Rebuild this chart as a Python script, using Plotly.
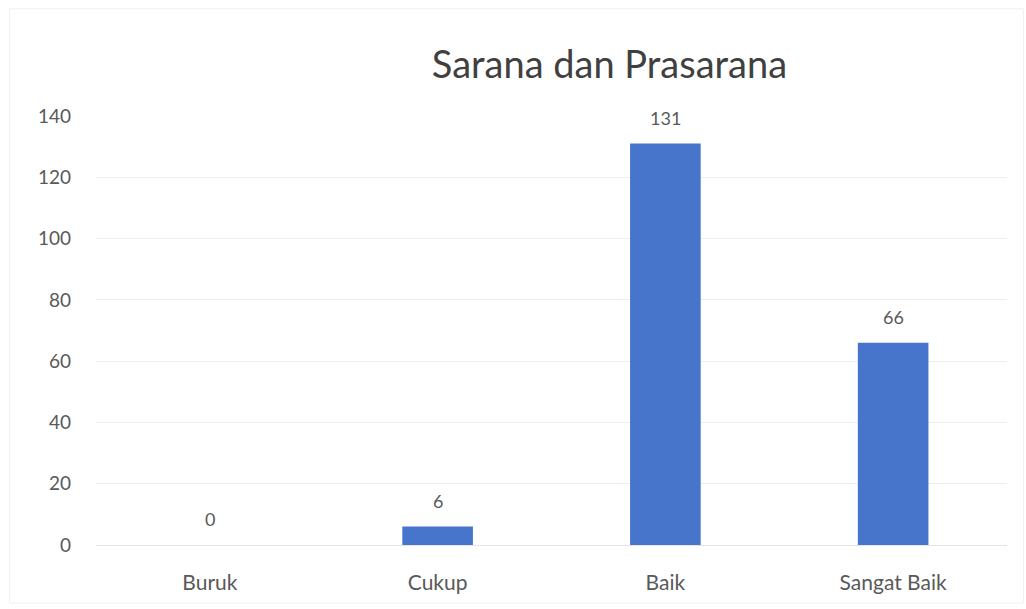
import plotly.graph_objects as go

categories = ["Buruk", "Cukup", "Baik", "Sangat Baik"]
values = [0, 6, 131, 66]
y_ticks = [0, 20, 40, 60, 80, 100, 120, 140]

FONT = "Lato, 'Open Sans', sans-serif"
TEXT_GRAY = "#595959"

fig = go.Figure(
    go.Bar(
        x=categories,
        y=values,
        width=0.31,
        marker=dict(color="#4775CB", line=dict(width=0)),
        hoverinfo="x+y",
    )
)

# value labels sitting above each bar
for cat, val in zip(categories, values):
    fig.add_annotation(
        x=cat, y=val, text=str(val),
        showarrow=False, yanchor="middle", yshift=26,
        font=dict(family=FONT, size=18, color=TEXT_GRAY),
    )

fig.update_layout(
    width=1026,
    height=609,
    margin=dict(l=96, r=19, t=116, b=64),
    paper_bgcolor="white",
    plot_bgcolor="white",
    showlegend=False,
    title=dict(
        text="Sarana dan Prasarana",
        x=0.594,
        xanchor="center",
        y=0.893,
        yanchor="middle",
        font=dict(family=FONT, size=38, color="#404040"),
    ),
    font=dict(family=FONT, size=19, color=TEXT_GRAY),
    xaxis=dict(
        showgrid=False,
        showline=True,
        linecolor="#E4E4E4",
        linewidth=1,
        ticks="",
        ticklabelstandoff=19,
        tickfont=dict(family=FONT, size=21, color=TEXT_GRAY),
    ),
    yaxis=dict(
        range=[0, 140],
        tickvals=y_ticks,
        showgrid=True,
        gridcolor="#EEEEEE",
        gridwidth=1,
        zeroline=False,
        showline=False,
        ticks="",
        ticklabelstandoff=24,
        tickfont=dict(family=FONT, size=19, color=TEXT_GRAY),
    ),
    shapes=[
        dict(
            type="rect", xref="paper", yref="paper",
            x0=-0.095, x1=1.018, y0=-0.135, y1=1.25,
            line=dict(color="#F0F0F0", width=1),
        )
    ],
)

fig.write_html("out.html")
